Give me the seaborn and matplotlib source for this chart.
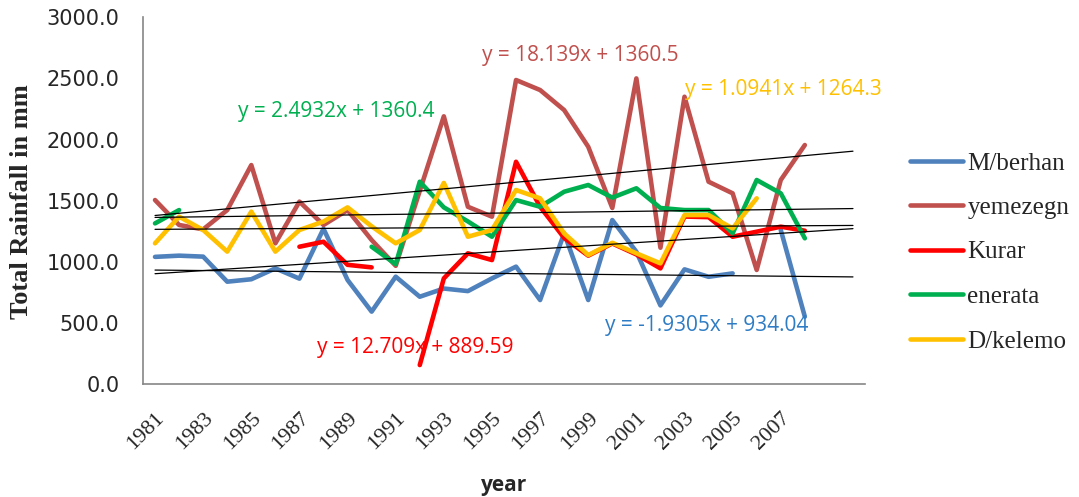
import numpy as np
import pandas as pd
import matplotlib
matplotlib.use("Agg")
import matplotlib.pyplot as plt
import matplotlib.transforms as mtransforms
from matplotlib.lines import Line2D
import seaborn as sns

sns.set_theme(style="white")
plt.rcParams['font.family'] = ['DejaVu Sans']

years = list(range(1981, 2009))
nan = np.nan
m_berhan = [1040, 1050, 1042, 837, 857, 946, 862, 1270, 851, 592, 878, 714, 781, 760,
            864, 960, 687, 1233, 687, 1341, 1082, 643, 938, 877, 905, nan, 1260, 551]
yemezegn = [1505, 1301, 1265, 1423, 1791, 1151, 1492, 1301, 1423, 1178, 967, 1580, 2190, 1450,
            1369, 2487, 2405, 2241, 1941, 1440, 2500, 1115, 2350, 1655, 1560, 933, 1669, 1955]
kurar = [nan, nan, nan, nan, nan, nan, 1123, 1164, 975, 954, nan, 155, 864, 1069,
         1014, 1818, 1450, 1195, 1050, 1150, 1060, 946, 1370, 1365, 1205, 1246, 1287, 1254]
enerata = [1314, 1423, nan, nan, nan, nan, nan, nan, nan, 1123, 980, 1655, 1445, 1330,
           1205, 1505, 1450, 1573, 1628, 1525, 1601, 1440, 1423, 1423, 1233, 1669, 1560, 1192]
d_kelemo = [1151, 1369, 1260, 1083, 1410, 1083, 1260, 1329, 1445, 1290, 1151, 1260, 1645, 1205,
            1260, 1587, 1519, 1232, 1055, 1155, 1069, 987, 1382, 1382, 1273, 1519, nan, nan]

series_names = ["M/berhan", "yemezegn", "Kurar", "enerata", "D/kelemo"]
series_values = [m_berhan, yemezegn, kurar, enerata, d_kelemo]
series_colors = ["#4F81BD", "#C0504D", "#FF0000", "#00B050", "#FFC000"]

# trendline equations shown on the chart (x = category index 1..)
trend_slopes = [-1.9305, 18.139, 12.709, 2.4932, 1.0941]
trend_intercepts = [934.04, 1360.5, 889.59, 1360.4, 1264.3]
trend_labels = ["y = -1.9305x + 934.04", "y = 18.139x + 1360.5", "y = 12.709x + 889.59",
                "y = 2.4932x + 1360.4", "y = 1.0941x + 1264.3"]
label_colors = ["#2E7CC4", "#C0504D", "#FF0000", "#00B050", "#FFC000"]
label_pos = [(605, 325), (482, 55), (317, 347), (238, 111), (685, 90)]  # pixel anchors (left, center)
forecast_periods = 2

x_ticks = list(range(1981, 2008, 2))
y_ticks = [0, 500, 1000, 1500, 2000, 2500, 3000]

W, H = 1079, 497
fig = plt.figure(figsize=(W / 100, H / 100), dpi=100)
ax = fig.add_axes([143 / W, 1 - 384 / H, (865 - 143) / W, (384 - 17.3) / H])

# data lines, split at gaps
for name, vals, col in zip(series_names, series_values, series_colors):
    df = pd.DataFrame({"year": years, "val": vals})
    df["seg"] = df["val"].isna().cumsum()
    df = df.dropna()
    sns.lineplot(data=df, x="year", y="val", units="seg", estimator=None,
                 color=col, lw=3.3, ax=ax, legend=False, solid_capstyle="round")

# trendlines
n_trend = len(years) + forecast_periods
tx = np.arange(1, n_trend + 1)
tyears = np.array(years[0] + tx - 1)
for s, b in zip(trend_slopes, trend_intercepts):
    sns.lineplot(x=tyears, y=s * tx + b, color="black", lw=0.9, ax=ax, legend=False)

for txt, col, (px, py) in zip(trend_labels, label_colors, label_pos):
    fig.text(px / W, 1 - py / H, txt, color=col, fontsize=15, family="Open Sans",
             ha="left", va="center")

ax.set_xlim(1980.5, 1980.5 + n_trend)
ax.set_ylim(0, 3000)
ax.set_xticks(x_ticks)
ax.set_xticklabels([str(y) for y in x_ticks], rotation=45, ha="right",
                   rotation_mode="anchor", family="Liberation Serif", fontsize=16)
shift = mtransforms.ScaledTranslation(-6 / 100, 0, fig.dpi_scale_trans)
for lab in ax.get_xticklabels():
    lab.set_transform(lab.get_transform() + shift)
ax.set_yticks(y_ticks)
ax.set_yticklabels([f"{v:.1f}" for v in y_ticks], family="DejaVu Sans", fontsize=15)
ax.tick_params(axis="y", length=7, width=1, color="#868686", direction="out", pad=10)
ax.tick_params(axis="x", length=0, pad=18)
for sp in ["top", "right"]:
    ax.spines[sp].set_visible(False)
for sp in ["left", "bottom"]:
    ax.spines[sp].set_color("#868686")
    ax.spines[sp].set_linewidth(1.2)

ax.set_xlabel("")
ax.set_ylabel("")
fig.text(22 / W, 1 - 202 / H, "Total Rainfall in mm", rotation=90, family="Liberation Serif",
         fontweight="bold", fontsize=19, ha="center", va="center")
fig.text(504 / W, 1 - 485 / H, "year", family="Open Sans", fontweight="bold",
         fontsize=15, ha="center", va="center")

handles = [Line2D([0], [0], color=c, lw=3.3) for c in series_colors]
fig.legend(handles, series_names, loc="upper left", bbox_to_anchor=(910 / W, 1 - 152 / H),
           frameon=False, prop={"family": "Liberation Serif", "size": 18},
           handlelength=2.1, handletextpad=0.2, labelspacing=0.88, borderpad=0,
           borderaxespad=0)

fig.savefig("out.png", dpi=100)
